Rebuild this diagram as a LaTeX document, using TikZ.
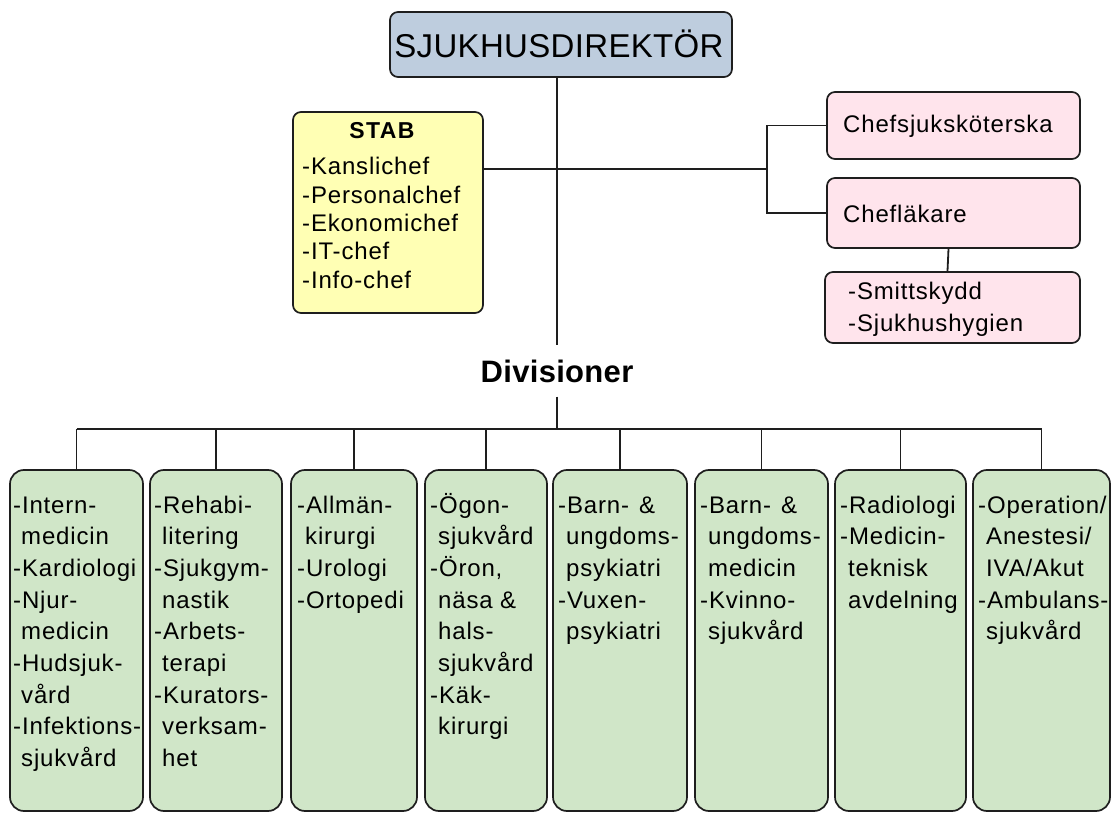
\documentclass[tikz,border=0pt]{standalone}
\usepackage{fontspec}
\setmainfont{Liberation Sans}
\newfontfamily\listfont[LetterSpace=3.5]{Liberation Sans}
\newfontfamily\titlefont[LetterSpace=1]{Liberation Sans}
\newfontfamily\headfont[LetterSpace=6]{Liberation Sans}
\newcommand\indl{\hspace*{8pt}}
\newcommand\txtlines[1]{\begin{minipage}[t]{220pt}\raggedright #1\end{minipage}}

\definecolor{dirblue}{RGB}{190,205,222}
\definecolor{stabyellow}{RGB}{255,255,180}
\definecolor{staffpink}{RGB}{255,228,236}
\definecolor{divgreen}{RGB}{208,230,200}
\definecolor{edge}{RGB}{30,30,30}

\tikzset{
  box/.style={draw=edge, line width=1.7pt, rounded corners=8pt, inner sep=0pt},
  dirbox/.style={box, fill=dirblue},
  stabbox/.style={box, fill=stabyellow},
  staffbox/.style={box, fill=staffpink},
  divbox/.style={box, fill=divgreen, rounded corners=14pt, minimum height=341pt},
  conn/.style={draw=edge, line width=1.8pt},
  txt/.style={anchor=base west, inner sep=0pt, font=\listfont\fontsize{24}{31.7}\selectfont},
  stabtxt/.style={anchor=base west, inner sep=0pt, font=\listfont\fontsize{24}{28.3}\selectfont},
  stafftxt/.style={anchor=base west, inner sep=0pt, font=\listfont\fontsize{24}{32}\selectfont},
}

\begin{document}
\begin{tikzpicture}[x=1pt,y=-1pt]
\useasboundingbox (0,0) rectangle (1112,813);

% director
\node[dirbox, minimum width=342pt, minimum height=65pt] (dir) at (561,44.5) {};
\node[anchor=base, inner sep=0pt, font=\titlefont\fontsize{33}{40}\selectfont] (dirtxt) at (559,58) {SJUKHUSDIREKTÖR};

% staff boxes
\node[stabbox, minimum width=190pt, minimum height=201pt] (stab) at (388,212.5) {};
\node[anchor=base, inner sep=0pt, font=\headfont\bfseries\fontsize{23}{26}\selectfont] (stabhead) at (382,139) {STAB};
\node[stabtxt] (stabtxt) at (302,175) {\txtlines{-Kanslichef\\-Personalchef\\-Ekonomichef\\-IT-chef\\-Info-chef}};

\node[staffbox, minimum width=253pt, minimum height=67pt] (sjuk) at (953.5,125.5) {};
\node[stafftxt] (sjuktxt) at (843,133) {Chefsjuksköterska};
\node[staffbox, minimum width=253pt, minimum height=70pt] (lak) at (953.5,213) {};
\node[stafftxt] (laktxt) at (843,223) {Chefläkare};
\node[staffbox, minimum width=255pt, minimum height=71pt] (smitt) at (952.5,307.5) {};
\node[stafftxt] (smitttxt) at (848,300) {\txtlines{-Smittskydd\\-Sjukhushygien}};

% divisions label
\node[anchor=base, inner xsep=0pt, inner ysep=14pt, font=\titlefont\bfseries\fontsize{31}{36}\selectfont] (div) at (557,382) {Divisioner};

% division boxes
\node[divbox, minimum width=133pt] (d1) at (76.5,640.5) {};
\node[divbox, minimum width=132pt] (d2) at (216,640.5) {};
\node[divbox, minimum width=126pt] (d3) at (354,640.5) {};
\node[divbox, minimum width=122pt] (d4) at (486,640.5) {};
\node[divbox, minimum width=134pt] (d5) at (620,640.5) {};
\node[divbox, minimum width=133pt] (d6) at (761.5,640.5) {};
\node[divbox, minimum width=131pt] (d7) at (900.5,640.5) {};
\node[divbox, minimum width=137pt] (d8) at (1041.5,640.5) {};

\node[txt] (t1) at (13,513) {\txtlines{-Intern-\\\indl medicin\\-Kardiologi\\-Njur-\\\indl medicin\\-Hudsjuk-\\\indl vård\\-Infektions-\\\indl sjukvård}};
\node[txt] (t2) at (154,513) {\txtlines{-Rehabi-\\\indl litering\\-Sjukgym-\\\indl nastik\\-Arbets-\\\indl terapi\\-Kurators-\\\indl verksam-\\\indl het}};
\node[txt] (t3) at (297,513) {\txtlines{-Allmän-\\\indl kirurgi\\-Urologi\\-Ortopedi}};
\node[txt] (t4) at (430,513) {\txtlines{-Ögon-\\\indl sjukvård\\-Öron,\\\indl näsa \&\\\indl hals-\\\indl sjukvård\\-Käk-\\\indl kirurgi}};
\node[txt] (t5) at (558,513) {\txtlines{-Barn-\hspace{10pt}\&\\\indl ungdoms-\\\indl psykiatri\\-Vuxen-\\\indl psykiatri}};
\node[txt] (t6) at (700,513) {\txtlines{-Barn-\hspace{10pt}\&\\\indl ungdoms-\\\indl medicin\\-Kvinno-\\\indl sjukvård}};
\node[txt] (t7) at (840,513) {\txtlines{-Radiologi\\-Medicin-\\\indl teknisk\\\indl avdelning}};
\node[txt] (t8) at (978,513) {\txtlines{-Operation/\\\indl Anestesi/\\\indl IVA/Akut\\-Ambulans-\\\indl sjukvård}};

% connectors
\coordinate (hub) at (557,169);
\coordinate (brk) at (767,169);
\coordinate (bus) at (557,429);

\draw[conn] (dir.south -| hub) -- (div.north -| hub);
\draw[conn] (div.south -| bus) -- (bus);
\draw[conn] (stab.east |- hub) -- (brk);
\draw[conn] (sjuk.west) -| (brk) |- (lak.west);
\draw[conn] ([xshift=-5pt]lak.south) -- ([xshift=-5pt]smitt.north);

\draw[conn] (d1.north |- bus) -- (d8.north |- bus);
\foreach \d in {d1,d2,d3,d4,d5,d6,d7,d8}
  \draw[conn] (\d.north |- bus) -- (\d.north);
\end{tikzpicture}
\end{document}
